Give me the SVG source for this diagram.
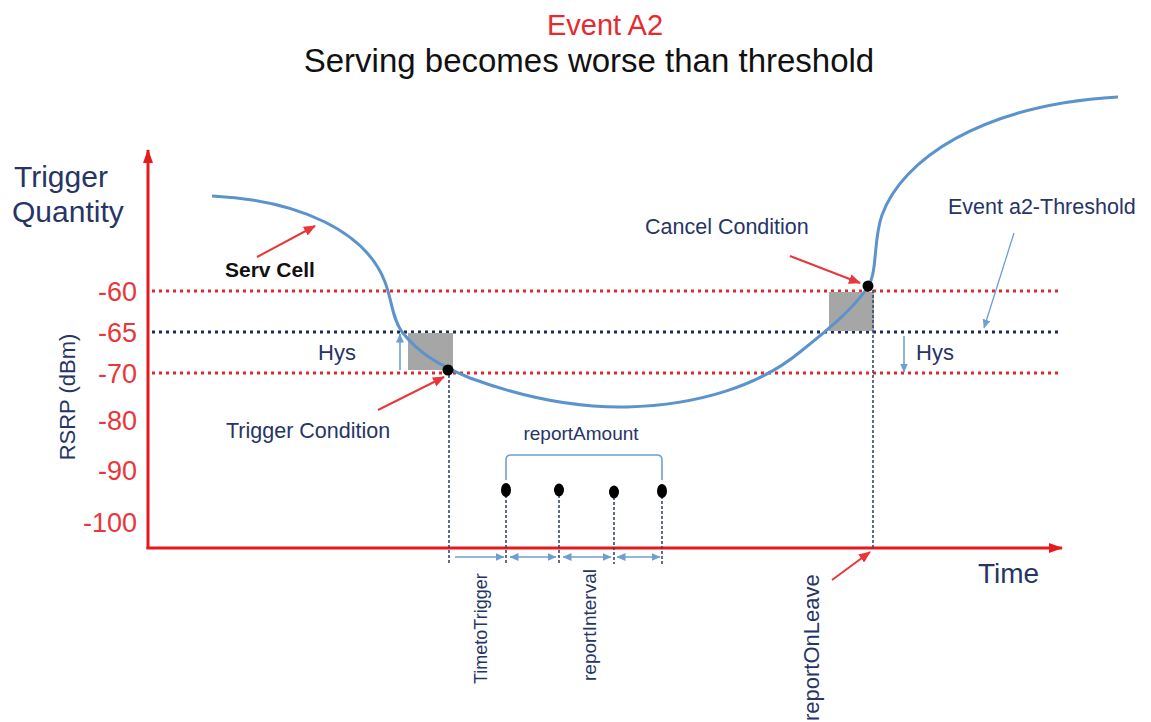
<svg xmlns="http://www.w3.org/2000/svg" width="1151" height="722" viewBox="0 0 1151 722">
<defs>
<style>
.navy{fill:#263566;font-family:"Liberation Sans",Arial,sans-serif}
.red{fill:#e62a2f;font-family:"Liberation Sans",Arial,sans-serif}
.tick{fill:#e8373b;font-family:"Liberation Sans",Arial,sans-serif;font-size:27px;text-anchor:end}
.dotR{stroke:#e3262b;stroke-width:3;stroke-dasharray:3 4;fill:none}
.dotN{stroke:#1f2a5c;stroke-width:3;stroke-dasharray:3 4;fill:none}
.vdash{stroke:#3a4670;stroke-width:1.6;stroke-dasharray:3 2;fill:none}
.redarr{stroke:#e8363b;stroke-width:2;fill:none;marker-end:url(#mRed)}
.bluearr{stroke:#6d9fd2;stroke-width:1.6;fill:none}
.axis{stroke:#e31b1f;stroke-width:3;fill:none}
</style>
<marker id="mRed" viewBox="0 0 12 10" refX="11" refY="5" markerWidth="12" markerHeight="10" markerUnits="userSpaceOnUse" orient="auto"><path d="M0,0 L12,5 L0,10 z" fill="#e8363b"/></marker>
<marker id="mAxis" viewBox="0 0 14 10" refX="13" refY="5" markerWidth="14" markerHeight="10" markerUnits="userSpaceOnUse" orient="auto"><path d="M0,0 L14,5 L0,10 z" fill="#e31b1f"/></marker>
<marker id="mBlue" viewBox="0 0 9 8" refX="8.5" refY="4" markerWidth="9" markerHeight="8" markerUnits="userSpaceOnUse" orient="auto-start-reverse"><path d="M0,0 L9,4 L0,8 z" fill="#6d9fd2"/></marker>
</defs>
<rect width="1151" height="722" fill="#ffffff"/>

<g id="title">
<text x="605" y="35" class="red" font-size="29" text-anchor="middle">Event A2</text>
<text x="589" y="72" font-family="Liberation Sans,Arial,sans-serif" font-size="33" fill="#111111" text-anchor="middle">Serving becomes worse than threshold</text>
</g>

<g id="axis-labels">
<text x="14" y="187" class="navy" font-size="30">Trigger</text>
<text x="12" y="222" class="navy" font-size="30">Quantity</text>
<text transform="translate(75,397) rotate(-90)" class="navy" font-size="22" text-anchor="middle">RSRP (dBm)</text>
<text x="978" y="583" class="navy" font-size="28">Time</text>
</g>

<g id="ticks">
<text x="137" y="301" class="tick">-60</text>
<text x="137" y="342" class="tick">-65</text>
<text x="137" y="383" class="tick">-70</text>
<text x="137" y="430" class="tick">-80</text>
<text x="137" y="480" class="tick">-90</text>
<text x="137" y="532" class="tick">-100</text>
</g>

<g id="levels">
<line x1="152" y1="291" x2="1062" y2="291" class="dotR"/>
<line x1="152" y1="332" x2="1062" y2="332" class="dotN"/>
<line x1="152" y1="373" x2="1062" y2="373" class="dotR"/>
</g>

<g id="hys-boxes">
<rect x="408" y="333" width="45" height="37" fill="#a6a6a6"/>
<rect x="829" y="292" width="45" height="39" fill="#a6a6a6"/>
</g>

<g id="serv-curve">
<path d="M212,196 C300,200 366,232 385,282 C392,300 392,318 402,332 C418,352 436,364 470,378 C530,400 580,408 627,407 C700,405 760,385 800,352 C830,328 852,310 868,287 C878,270 873,240 882,215 C902,160 980,105 1118,97" fill="none" stroke="#5b93cc" stroke-width="3"/>
</g>

<g id="connectors">
<line x1="148" y1="549" x2="148" y2="150" class="axis" marker-end="url(#mAxis)"/>
<line x1="146.5" y1="548" x2="1062" y2="548" class="axis" marker-end="url(#mAxis)"/>
<line x1="449" y1="370" x2="449" y2="564" class="vdash"/>
<line x1="873" y1="290" x2="873" y2="548" class="vdash"/>
<line x1="506" y1="490" x2="506" y2="564" class="vdash"/>
<line x1="559" y1="490" x2="559" y2="564" class="vdash"/>
<line x1="614" y1="492" x2="614" y2="564" class="vdash"/>
<line x1="662" y1="491" x2="662" y2="564" class="vdash"/>
<line x1="455" y1="557" x2="504" y2="557" class="bluearr" marker-end="url(#mBlue)"/>
<line x1="510" y1="557" x2="556" y2="557" class="bluearr" marker-start="url(#mBlue)" marker-end="url(#mBlue)"/>
<line x1="563" y1="557" x2="611" y2="557" class="bluearr" marker-start="url(#mBlue)" marker-end="url(#mBlue)"/>
<line x1="617" y1="557" x2="660" y2="557" class="bluearr" marker-start="url(#mBlue)" marker-end="url(#mBlue)"/>
<path d="M506,480 L506,460 Q506,455 511,455 L657,455 Q662,455 662,460 L662,480" class="bluearr"/>
<line x1="400" y1="370" x2="400" y2="334" class="bluearr" marker-end="url(#mBlue)"/>
<line x1="904" y1="336" x2="904" y2="372" class="bluearr" marker-end="url(#mBlue)"/>
<line x1="1014" y1="233" x2="984" y2="328" stroke="#6d9fd2" stroke-width="1.3" marker-end="url(#mBlue)"/>
<line x1="257" y1="257" x2="315" y2="226" class="redarr"/>
<line x1="378" y1="410" x2="444" y2="377" class="redarr"/>
<line x1="790" y1="256" x2="860" y2="283" class="redarr"/>
<line x1="832" y1="580" x2="870" y2="552" class="redarr"/>
</g>

<g id="points">
<circle cx="448" cy="370" r="5.5" fill="#000"/>
<circle cx="868" cy="286" r="5.5" fill="#000"/>
<ellipse cx="506" cy="490" rx="5" ry="7" fill="#000"/>
<ellipse cx="559" cy="490" rx="5" ry="6.5" fill="#000"/>
<ellipse cx="614" cy="492" rx="5" ry="6.5" fill="#000"/>
<ellipse cx="662" cy="491" rx="5" ry="7" fill="#000"/>
</g>

<g id="labels">
<text x="225" y="277" font-family="Liberation Sans,Arial,sans-serif" font-size="21" font-weight="bold" fill="#111111">Serv Cell</text>
<text x="318" y="360" class="navy" font-size="22">Hys</text>
<text x="916" y="360" class="navy" font-size="22">Hys</text>
<text x="226" y="438" class="navy" font-size="21.5">Trigger Condition</text>
<text x="645" y="234" class="navy" font-size="21.5">Cancel Condition</text>
<text x="948" y="214" class="navy" font-size="21.5">Event a2-Threshold</text>
<text x="581" y="440" class="navy" font-size="19" text-anchor="middle">reportAmount</text>
<text transform="translate(487,684) rotate(-90)" class="navy" font-size="18">TimetoTrigger</text>
<text transform="translate(596,681) rotate(-90)" class="navy" font-size="19">reportInterval</text>
<text transform="translate(819,721) rotate(-90)" class="navy" font-size="22">reportOnLeave</text>
</g>
</svg>
